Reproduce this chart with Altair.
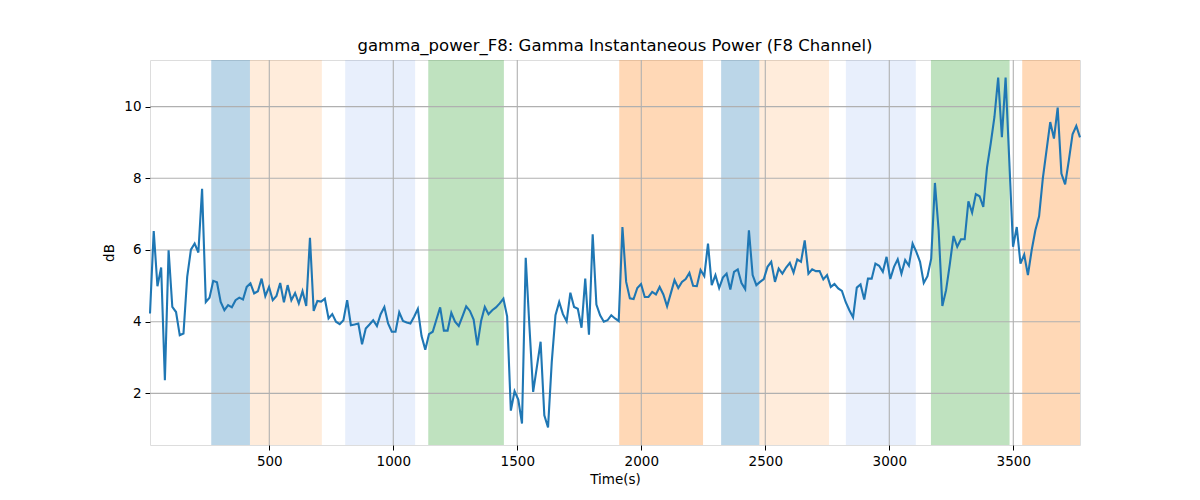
import altair as alt
import pandas as pd

# ---- data ----
T0 = 19.0
STEP = 15.0
values = [
    4.23, 6.53, 4.99, 5.51, 2.37, 5.99, 4.41, 4.27, 3.62, 3.67,
    5.25, 6.01, 6.18, 5.93, 7.71, 4.55, 4.67, 5.14, 5.10, 4.55,
    4.32, 4.46, 4.40, 4.60, 4.67, 4.62, 4.97, 5.07, 4.79, 4.85,
    5.20, 4.71, 4.97, 4.60, 4.72, 5.08, 4.54, 5.02, 4.60, 4.80,
    4.51, 4.85, 4.44, 6.34, 4.30, 4.58, 4.56, 4.64, 4.09, 4.21,
    4.00, 3.93, 4.04, 4.60, 3.90, 3.92, 3.95, 3.37, 3.81, 3.92,
    4.04, 3.88, 4.21, 4.41, 3.95, 3.72, 3.72,
    4.26, 4.02, 3.98, 3.95, 4.14, 4.36, 3.60, 3.22, 3.65, 3.72,
    4.06, 4.40, 3.75, 3.75, 4.25, 4.00, 3.88, 4.15, 4.43, 4.30,
    4.06, 3.34, 4.02, 4.41, 4.21, 4.32, 4.40, 4.51, 4.64, 4.15,
    1.52, 2.06, 1.83, 1.16, 5.78, 3.86, 2.04, 2.74, 3.44, 1.39,
    1.05, 2.88, 4.18, 4.55, 4.21, 4.01, 4.81, 4.41, 4.36, 3.83,
    5.20, 3.64, 6.44, 4.48, 4.18, 4.00, 4.04, 4.18, 4.09, 4.02,
    6.64, 5.11, 4.65, 4.63, 4.94, 5.05,
    4.69, 4.69, 4.83, 4.76, 4.97, 4.76, 4.43, 4.79, 5.16, 4.94,
    5.11, 5.19, 5.36, 5.00, 4.99, 5.44, 5.27, 6.18, 5.02, 5.30,
    4.94, 5.23, 5.34, 4.90, 5.39, 5.46, 5.08, 4.91, 6.55, 5.30,
    5.02, 5.11, 5.19, 5.53, 5.67, 5.11, 5.48, 5.34, 5.51, 5.64,
    5.37, 5.74, 5.67, 6.27, 5.34, 5.46, 5.41, 5.41, 5.18, 5.30,
    4.97, 5.05, 4.93, 4.86, 4.55, 4.32, 4.12, 4.95, 5.04, 4.62,
    5.20, 5.20, 5.62, 5.56, 5.39, 5.81, 5.19, 5.53, 5.74, 5.34,
    5.72, 5.56, 6.18, 5.95, 5.67, 5.08, 5.27, 5.76, 7.87, 6.55,
    4.44, 4.88, 5.60, 6.39, 6.09, 6.30, 6.30, 7.36, 7.04, 7.56,
    7.50, 7.20, 8.30, 8.97, 9.71, 10.81, 9.15, 10.81, 8.46, 6.09,
    6.64, 5.62, 5.87, 5.30, 5.99, 6.55, 6.94, 7.99, 8.78, 9.57,
    9.11, 9.97, 8.13, 7.83, 8.50, 9.23, 9.46, 9.14,
]
times = [T0 + STEP * i for i in range(len(values))]

band_start = [266, 422, 806, 1141, 1911, 2322, 2476, 2825, 3168, 3536]
band_end = [422, 712, 1088, 1446, 2249, 2476, 2757, 3107, 3485, 3769]
band_color = ["#1f77b4", "#ff7f0e", "#6495ed", "#2ca02c", "#ff7f0e",
              "#1f77b4", "#ff7f0e", "#6495ed", "#2ca02c", "#ff7f0e"]
band_alpha = [0.3, 0.15, 0.15, 0.3, 0.3, 0.3, 0.15, 0.15, 0.3, 0.3]

x_ticks = [500, 1000, 1500, 2000, 2500, 3000, 3500]
y_ticks = [2, 4, 6, 8, 10]
X_DOMAIN = [T0, times[-1]]
Y_DOMAIN = [0.56, 11.30]

W, H = 930, 385

line_df = pd.DataFrame({"t": times, "v": values})
band_df = pd.DataFrame({"s": band_start, "e": band_end,
                        "c": band_color, "a": band_alpha})
xg_df = pd.DataFrame({"t": x_ticks})
yg_df = pd.DataFrame({"v": y_ticks})

xscale = alt.Scale(domain=X_DOMAIN, nice=False, zero=False)
yscale = alt.Scale(domain=Y_DOMAIN, nice=False, zero=False)

font = "DejaVu Sans"

xaxis = alt.Axis(values=x_ticks, grid=False, title="Time(s)", format="d",
                 tickSize=5, labelPadding=4, tickColor="black",
                 domain=False, labelFontSize=13.5, titleFontSize=13.5,
                 titleFontWeight="normal", titlePadding=5, labelColor="black",
                 titleColor="black", labelFont=font, titleFont=font)
yaxis = alt.Axis(values=y_ticks, grid=False, title="dB", format="d",
                 tickSize=5, labelPadding=4, tickColor="black",
                 domain=False, labelFontSize=13.5, titleFontSize=13.5,
                 titleFontWeight="normal", titlePadding=7, labelColor="black",
                 titleColor="black", labelFont=font, titleFont=font)

bands = alt.Chart(band_df).mark_rect().encode(
    x=alt.X("s:Q", scale=xscale, axis=xaxis),
    x2="e:Q",
    y=alt.value(0),
    y2=alt.value(H),
    color=alt.Color("c:N", scale=None),
    opacity=alt.Opacity("a:Q", scale=None),
)

xgrid = alt.Chart(xg_df).mark_rule(color="#b0b0b0", strokeWidth=1.1).encode(
    x=alt.X("t:Q", scale=xscale),
    y=alt.value(0),
    y2=alt.value(H),
)

ygrid = alt.Chart(yg_df).mark_rule(color="#b0b0b0", strokeWidth=1.1).encode(
    y=alt.Y("v:Q", scale=yscale, axis=yaxis),
    x=alt.value(0),
    x2=alt.value(W),
)

line = alt.Chart(line_df).mark_line(color="#1f77b4", strokeWidth=2.1).encode(
    x=alt.X("t:Q", scale=xscale),
    y=alt.Y("v:Q", scale=yscale),
)

chart = alt.layer(bands, xgrid, ygrid, line).properties(
    width=W,
    height=H,
    title=alt.TitleParams(
        "gamma_power_F8: Gamma Instantaneous Power (F8 Channel)",
        fontSize=16.5, fontWeight="normal", font=font, color="black",
        anchor="middle", offset=5,
    ),
    autosize=alt.AutoSizeParams(type="none"),
    padding={"left": 142, "top": 52, "right": 100, "bottom": 47},
).configure_view(
    stroke="black", strokeWidth=1.1
).configure(background="white")

chart.save("out.html", embed_options={"renderer": "svg", "actions": False})
